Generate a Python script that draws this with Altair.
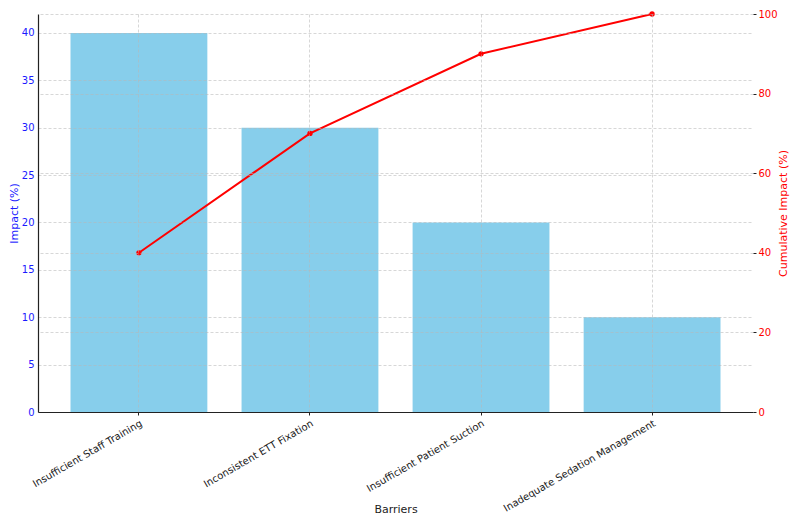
import altair as alt
import pandas as pd

barriers = [
    "Insufficient Staff Training",
    "Inconsistent ETT Fixation",
    "Insufficient Patient Suction",
    "Inadequate Sedation Management",
]
impact = [40, 30, 20, 10]
cumulative = [40, 70, 90, 100]

df = pd.DataFrame({"Barrier": barriers, "Impact": impact, "Cumulative": cumulative})

FONT = "DejaVu Sans"
GRID = dict(grid=True, gridColor="#b8b8b8", gridDash=[3, 2], gridWidth=0.8, gridOpacity=0.7)

x_enc = alt.X(
    "Barrier:N",
    sort=barriers,
    scale=alt.Scale(paddingInner=0.2, paddingOuter=0.19),
    axis=alt.Axis(
        title="Barriers",
        labelAngle=-30,
        labelAlign="right",
        labelBaseline="top",
        labelFontSize=10,
        labelColor="#222222",
        labelPadding=3,
        titleFontSize=11,
        titleFontWeight="normal",
        titleColor="#222222",
        titleBaseline="bottom",
        titleY=102,
        domainColor="#222222",
        domainWidth=1.2,
        tickSize=3,
        tickColor="#222222",
        bandPosition=0.5,
        zindex=1,
        **GRID,
    ),
)

bars = alt.Chart(df).mark_bar(color="#87CEEB").encode(
    x=x_enc,
    y=alt.Y(
        "Impact:Q",
        scale=alt.Scale(domain=[0, 42], nice=False),
        axis=alt.Axis(
            title="Impact (%)",
            orient="left",
            values=[0, 5, 10, 15, 20, 25, 30, 35, 40],
            labelColor="#1a1aff",
            labelFontSize=10,
            labelPadding=4,
            tickSize=0,
            titleColor="#1a1aff",
            titleFontSize=11,
            titleFontWeight="normal",
            titlePadding=2,
            domainColor="#222222",
            domainWidth=1.2,
            zindex=1,
            **GRID,
        ),
    ),
)

line = alt.Chart(df).mark_line(
    color="#ff0000", strokeWidth=2,
    point=alt.OverlayMarkDef(color="#ff0000", size=28, filled=True, opacity=1),
).encode(
    x=alt.X("Barrier:N", sort=barriers),
    y=alt.Y(
        "Cumulative:Q",
        scale=alt.Scale(domain=[0, 100], nice=False),
        axis=alt.Axis(
            title="Cumulative Impact (%)",
            orient="right",
            values=[0, 20, 40, 60, 80, 100],
            labelColor="#ff0000",
            labelFontSize=10,
            labelPadding=2,
            tickSize=3,
            tickColor="#222222",
            domain=False,
            titleColor="#ff0000",
            titleFontSize=11,
            titleFontWeight="normal",
            titleAngle=270,
            titleBaseline="top",
            titlePadding=0,
            zindex=1,
            **GRID,
        ),
    ),
)

chart = (
    alt.layer(bars, line)
    .resolve_scale(y="independent")
    .properties(
        width=715,
        height=398,
        autosize=alt.AutoSizeParams(type="none"),
        padding={"left": 30, "top": 6, "right": 39, "bottom": 104},
    )
    .configure(font=FONT)
    .configure_view(stroke=None)
)

chart.save("out.html", embed_options={"renderer": "svg", "actions": False})
